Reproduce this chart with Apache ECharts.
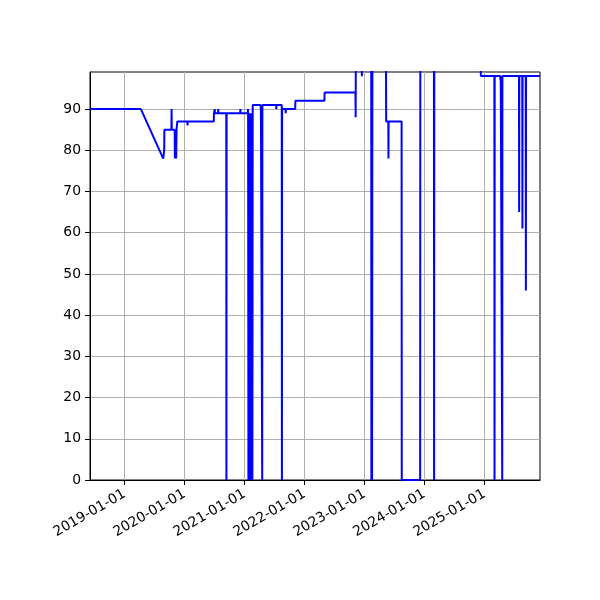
<!DOCTYPE html>
<html>
<head>
<meta charset="utf-8">
<script src="https://cdn.jsdelivr.net/npm/echarts@6/dist/echarts.min.js"></script>
<style>html,body{margin:0;padding:0;background:#fff}#c{width:600px;height:600px}</style>
</head>
<body>
<div id="c"></div>
<script>
var dates = ["2018-06-04","2019-04-10","2019-08-24","2019-08-30","2019-08-31","2019-10-13","2019-10-14","2019-10-15",
"2019-11-02","2019-11-03","2019-11-05","2019-11-07","2019-11-09","2019-11-11","2019-11-13","2019-11-17","2019-11-18",
"2020-01-18","2020-01-19","2020-01-20","2020-06-27","2020-06-28","2020-07-02","2020-07-03","2020-07-04","2020-07-23",
"2020-07-24","2020-07-25","2020-09-11","2020-09-12","2020-09-13","2020-12-05","2020-12-06","2020-12-07","2021-01-20",
"2021-01-21","2021-01-22","2021-01-24","2021-01-26","2021-01-29","2021-02-01","2021-02-04","2021-02-07","2021-02-11",
"2021-02-14","2021-02-17","2021-02-19","2021-04-08","2021-04-09","2021-04-10","2021-04-17","2021-04-18","2021-04-19",
"2021-07-12","2021-07-13","2021-07-14","2021-08-15","2021-08-16","2021-08-17","2021-09-07","2021-09-08","2021-09-09",
"2021-11-05","2021-11-06","2022-05-02","2022-05-03","2022-11-07","2022-11-08","2022-11-09","2022-12-15","2022-12-16",
"2022-12-17","2023-02-11","2023-02-12","2023-02-14","2023-02-16","2023-02-18","2023-05-12","2023-05-13","2023-05-26",
"2023-05-27","2023-05-28","2023-08-15","2023-08-16","2023-12-06","2023-12-07","2024-02-28","2024-02-29","2024-03-01",
"2024-12-09","2024-12-10","2025-03-02","2025-03-03","2025-03-04","2025-04-07","2025-04-08","2025-04-10","2025-04-18",
"2025-04-19","2025-04-20","2025-07-30","2025-07-31","2025-08-01","2025-08-19","2025-08-20","2025-08-21","2025-09-09",
"2025-09-10","2025-09-11","2025-12-05"];
var values = [90,90,78,80,85,85,90,85,
85,78,85,78,85,78,85,85,87,
87,86,87,87,89,89,90,89,89,
90,89,89,0,89,89,90,89,89,
90,89,0,89,0,89,0,89,0,
89,0,91,91,90,91,91,0,91,
91,90,91,91,0,90,90,89,90,
90,92,92,94,94,88,100,100,98,
100,100,0,100,0,100,100,87,87,
78,87,87,0,0,100,100,0,100,
100,98,98,0,98,98,97,98,98,
0,98,98,65,98,98,61,98,98,
46,98,98];
var xTickLabels = ["2019-01-01","2020-01-01","2021-01-01","2022-01-01","2023-01-01","2024-01-01","2025-01-01"];
var xRange = ["2018-06-04","2025-12-05"];
var yTicks = [0,10,20,30,40,50,60,70,80,90];

function ts(s){var p=s.split('-');return new Date(+p[0],+p[1]-1,+p[2]).getTime();}
function fmt(v){var d=new Date(v);function z(n){return (n<10?'0':'')+n;}return d.getFullYear()+'-'+z(d.getMonth()+1)+'-'+z(d.getDate());}
var data = dates.map(function(d,i){return [ts(d), values[i]];});
var tickVals = xTickLabels.map(ts);
var font = {fontFamily:'DejaVu Sans', fontSize:13.9, color:'#000'};

var chart = echarts.init(document.getElementById('c'), null, {renderer:'canvas'});
chart.setOption({
  animation:false,
  grid:{left:90,right:60,top:72,bottom:120,show:true,borderColor:'#000',borderWidth:1,backgroundColor:'transparent'},
  xAxis:{
    type:'value', min:ts(xRange[0]), max:ts(xRange[1]), scale:true,
    axisLine:{show:true,lineStyle:{color:'#000',width:1}},
    axisTick:{show:true,length:5,lineStyle:{color:'#000',width:1},customValues:tickVals},
    axisLabel:Object.assign({rotate:30,margin:13,customValues:tickVals,formatter:function(v){return fmt(v);}},font),
    splitLine:{show:true,lineStyle:{color:'#b0b0b0',width:1}}
  },
  yAxis:{
    type:'value', min:0, max:99, interval:10,
    axisLine:{show:true,lineStyle:{color:'#000',width:1}},
    axisTick:{show:true,length:5,lineStyle:{color:'#000',width:1},customValues:yTicks},
    axisLabel:Object.assign({margin:9,customValues:yTicks},font),
    splitLine:{show:true,lineStyle:{color:'#b0b0b0',width:1}}
  },
  series:[{
    type:'line', data:data, showSymbol:false, symbol:'none', clip:true,
    lineStyle:{color:'#0000ff',width:2}
  }]
});
</script>
</body>
</html>
